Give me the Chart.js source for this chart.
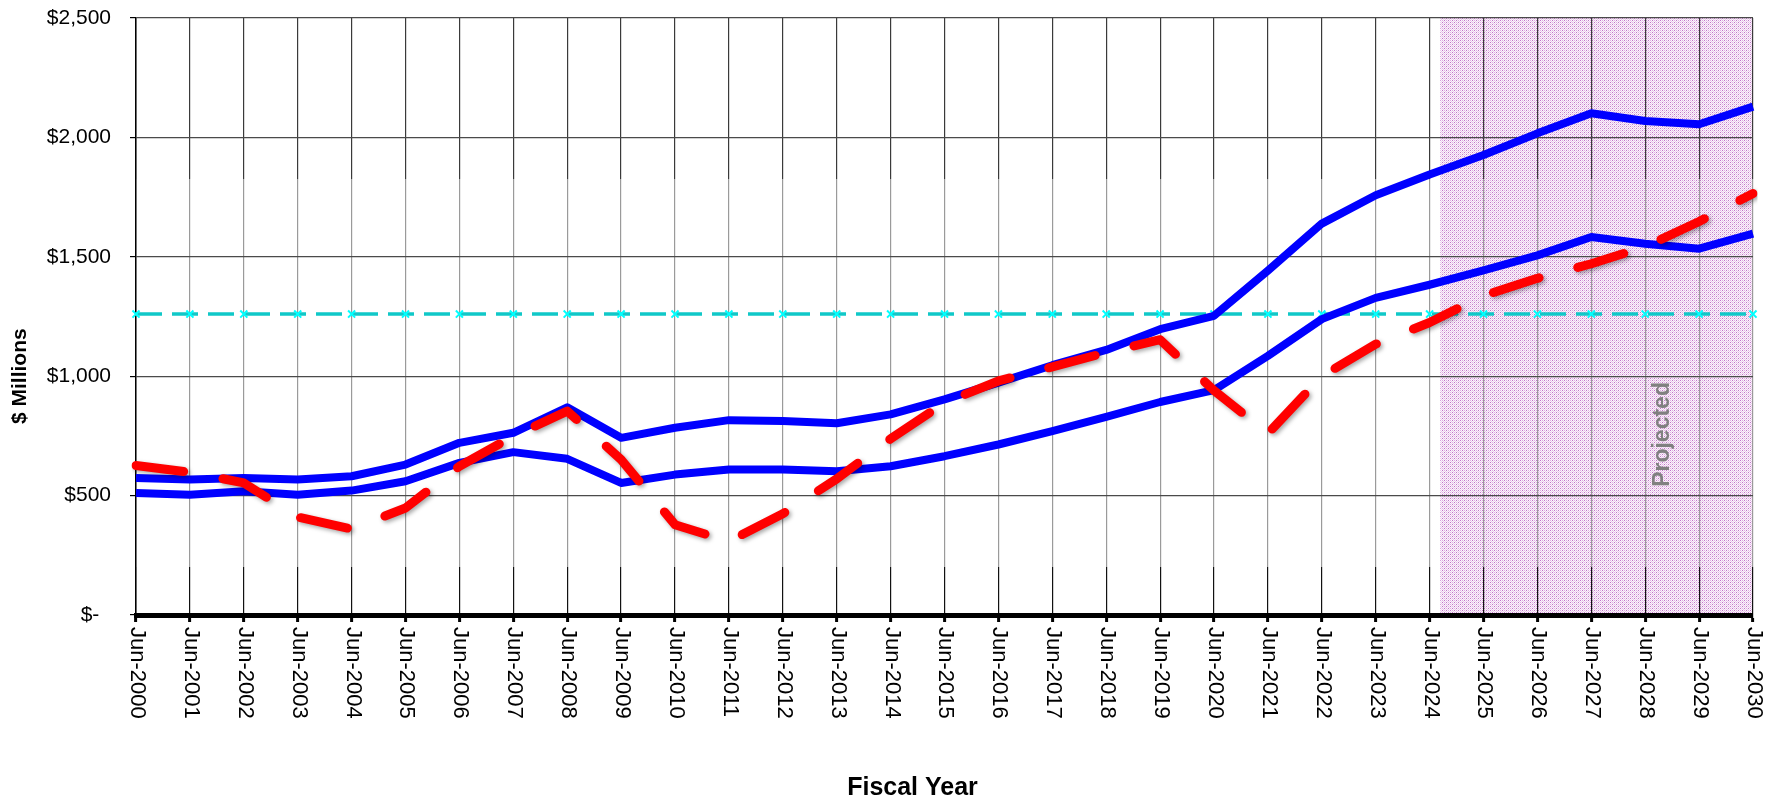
<!DOCTYPE html>
<html>
<head>
<meta charset="utf-8">
<script src="https://cdn.jsdelivr.net/npm/chart.js@4/dist/chart.umd.min.js"></script>
<style>
  html, body { margin: 0; padding: 0; background: #fff; }
  #wrap { width: 1777px; height: 803px; }
</style>
</head>
<body>
<div id="wrap"><canvas id="c" width="1777" height="803"></canvas></div>
<script>
// ---------- DATA ----------
const fiscalYears = ['Jun-2000','Jun-2001','Jun-2002','Jun-2003','Jun-2004','Jun-2005','Jun-2006','Jun-2007','Jun-2008','Jun-2009','Jun-2010','Jun-2011','Jun-2012','Jun-2013','Jun-2014','Jun-2015','Jun-2016','Jun-2017','Jun-2018','Jun-2019','Jun-2020','Jun-2021','Jun-2022','Jun-2023','Jun-2024','Jun-2025','Jun-2026','Jun-2027','Jun-2028','Jun-2029','Jun-2030'];

const upperBlue = [574, 567, 574, 567, 581, 630, 721, 763, 870, 742, 784, 816, 812, 803, 840, 903, 973, 1046, 1110, 1197, 1253, 1442, 1639, 1758, 1845, 1926, 2017, 2101, 2069, 2055, 2129];

const lowerBlue = [511, 504, 518, 504, 521, 560, 637, 682, 654, 553, 588, 609, 609, 602, 623, 665, 714, 770, 830, 892, 942, 1085, 1239, 1328, 1383, 1443, 1506, 1583, 1555, 1534, 1597];

const redDashed = [626, 598, 553, 410, 360, 448, 623, 749, 854, 651, 378, 308, 424, 570, 738, 889, 980, 1039, 1099, 1153, 940, 760, 1000, 1134, 1225, 1337, 1410, 1471, 1542, 1648, 1765];

const targetLevel = 1260;
const targetLine = fiscalYears.map(() => targetLevel);

const yTickValues = [0, 500, 1000, 1500, 2000, 2500];
const yAxisTitle = '$ Millions';
const xAxisTitle = 'Fiscal Year';
const projectedLabel = 'Projected';
const projectedFromIndex = 24.2;

// ---------- STYLE HELPERS ----------
function makePattern(ctx) {
  const p = document.createElement('canvas');
  p.width = 4; p.height = 4;
  const g = p.getContext('2d');
  g.fillStyle = '#fcf4fc'; g.fillRect(0, 0, 4, 4);
  const px = (x, y, c) => { g.fillStyle = c; g.fillRect(x, y, 1, 1); };
  px(0,0,'#c076c8'); px(2,2,'#c076c8');
  px(2,0,'#deb0e2'); px(0,2,'#deb0e2');
  px(1,1,'#eed6f0'); px(3,3,'#eed6f0');
  px(1,3,'#e8c8ea'); px(3,1,'#e8c8ea');
  return ctx.createPattern(p, 'repeat');
}

const decorPlugin = {
  id: 'decor',
  beforeDraw(chart) {
    const { ctx, chartArea: a, scales } = chart;
    const x0 = scales.x.getPixelForValue(projectedFromIndex);
    ctx.save();
    ctx.fillStyle = makePattern(ctx);
    ctx.fillRect(x0, a.top, a.right - x0, a.bottom - a.top);
    ctx.restore();
  },
  beforeDatasetDraw(chart, args) {
    if (chart.data.datasets[args.index].shadow) {
      const ctx = chart.ctx;
      ctx.save();
      ctx.shadowColor = 'rgba(0,0,0,0.35)';
      ctx.shadowBlur = 4;
      ctx.shadowOffsetX = 2;
      ctx.shadowOffsetY = 2;
    }
  },
  afterDatasetDraw(chart, args) {
    if (chart.data.datasets[args.index].shadow) chart.ctx.restore();
  },
  afterDraw(chart) {
    const { ctx, chartArea: a, scales } = chart;
    const xs = scales.x, ys = scales.y;
    ctx.save();
    // x tick labels, rotated clockwise
    ctx.fillStyle = '#000';
    ctx.font = '22px "Liberation Sans", Arial, sans-serif';
    ctx.textAlign = 'left';
    ctx.textBaseline = 'middle';
    fiscalYears.forEach((lab, i) => {
      const x = xs.getPixelForTick(i);
      ctx.save();
      ctx.translate(x + 1, a.bottom + 12);
      ctx.rotate(Math.PI / 2);
      ctx.fillText(lab, 0, 0);
      ctx.restore();
    });
    // y title
    ctx.font = 'bold 21px "Liberation Sans", Arial, sans-serif';
    ctx.textAlign = 'center';
    ctx.save();
    ctx.translate(20, ys.getPixelForValue(1000));
    ctx.rotate(-Math.PI / 2);
    ctx.fillText(yAxisTitle, 0, 0);
    ctx.restore();
    // x title
    ctx.font = 'bold 25px "Liberation Sans", Arial, sans-serif';
    ctx.fillText(xAxisTitle, (a.left + a.right) / 2 - 32, 788);
    // Projected
    ctx.fillStyle = '#808080';
    ctx.font = 'bold 23px "Liberation Sans", Arial, sans-serif';
    ctx.save();
    ctx.translate(xs.getPixelForValue(28.33), ys.getPixelForValue(756));
    ctx.rotate(-Math.PI / 2);
    ctx.fillText(projectedLabel, 0, 0);
    ctx.restore();
    ctx.restore();
  }
};

function vGridColor(c) {
  const a = c.chart.chartArea;
  if (!a) return '#777';
  const g = c.chart.ctx.createLinearGradient(0, a.top, 0, a.bottom);
  g.addColorStop(0, '#3a3a3a');
  g.addColorStop(0.27, '#3a3a3a');
  g.addColorStop(0.2701, '#9a9a9a');
  g.addColorStop(0.92, '#9a9a9a');
  g.addColorStop(0.9201, '#111');
  g.addColorStop(1, '#111');
  return g;
}

new Chart(document.getElementById('c'), {
  type: 'line',
  data: {
    labels: fiscalYears,
    datasets: [
      {
        label: 'Projection (dashed)',
        data: redDashed,
        borderColor: '#ff0000',
        borderWidth: 9,
        borderDash: [48, 40],
        borderCapStyle: 'round',
        borderJoinStyle: 'round',
        pointRadius: 0,
        tension: 0,
        order: 0,
        shadow: true
      },
      {
        label: 'Upper',
        data: upperBlue,
        borderColor: '#0000ff',
        borderWidth: 8,
        borderJoinStyle: 'round',
        pointRadius: 0,
        tension: 0,
        order: 1
      },
      {
        label: 'Lower',
        data: lowerBlue,
        borderColor: '#0000ff',
        borderWidth: 8,
        borderJoinStyle: 'round',
        pointRadius: 0,
        tension: 0,
        order: 2
      },
      {
        label: 'Target',
        data: targetLine,
        borderColor: '#10c8c8',
        borderWidth: 3.5,
        borderDash: [26, 10],
        pointStyle: 'crossRot',
        pointRadius: 5,
        pointBorderWidth: 2,
        pointBorderColor: '#00ffff',
        pointBackgroundColor: '#00ffff',
        tension: 0,
        order: 3
      }
    ]
  },
  options: {
    responsive: false,
    animation: false,
    devicePixelRatio: 1,
    layout: { padding: { top: 18, right: 24, left: 0, bottom: 0 } },
    plugins: { legend: { display: false }, tooltip: { enabled: false }, title: { display: false } },
    scales: {
      x: {
        type: 'category',
        offset: false,
        afterFit(scale) { scale.height = 188; scale.paddingLeft = 0; scale.paddingRight = 0; },
        ticks: { display: false },
        grid: {
          color: vGridColor,
          lineWidth: 1.2,
          drawTicks: true,
          tickLength: 7,
          tickColor: '#000',
          tickWidth: 3
        },
        border: { display: true, color: '#000', width: 5 }
      },
      y: {
        min: 0,
        max: 2500,
        afterFit(scale) { scale.width = 136; scale.paddingTop = 0; scale.paddingBottom = 0; },
        afterBuildTicks(scale) { scale.ticks = yTickValues.map(v => ({ value: v })); },
        ticks: {
          padding: 19,
          color: '#000',
          font: { family: '"Liberation Sans", Arial, sans-serif', size: 21 },
          callback: (v) => v === 0 ? '$-  ' : '$' + v.toLocaleString('en-US')
        },
        grid: {
          color: '#4a4a4a',
          lineWidth: 1.2,
          drawTicks: true,
          tickLength: 6,
          tickColor: '#000'
        },
        border: { display: true, color: '#000', width: 1.5 }
      }
    }
  },
  plugins: [decorPlugin]
});
</script>
</body>
</html>
